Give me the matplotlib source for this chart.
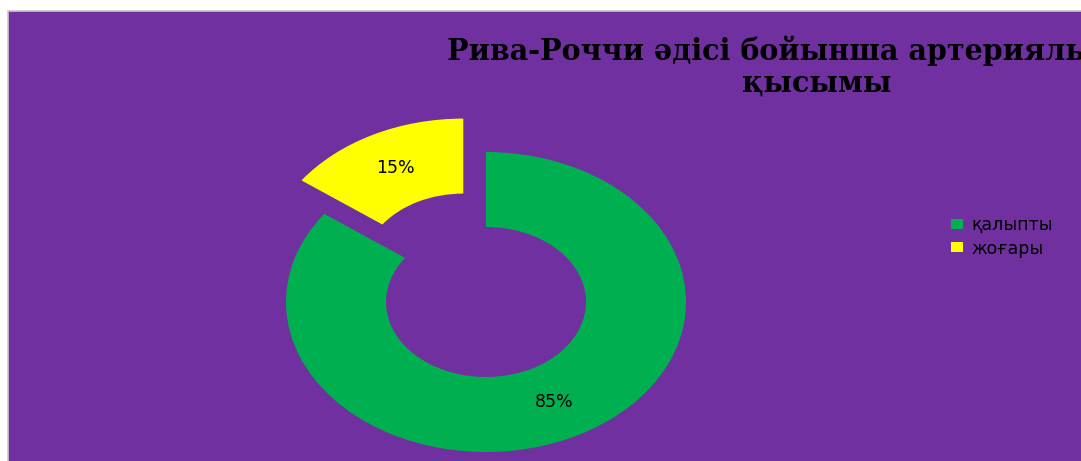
import matplotlib.pyplot as plt
from matplotlib.patches import Rectangle

# data
labels = ['қалыпты', 'жоғары']
shares = [85, 15]
colors = ['#00B050', '#FFFF00']
explode = [0, 0.25]

title_line1 = 'Рива-Роччи әдісі бойынша артериялық қан'
title_line2 = 'қысымы'

W, H = 1081, 461
fig = plt.figure(figsize=(W / 100, H / 100), dpi=100)
fig.patch.set_facecolor('white')

# purple chart area with a light grey edge at left and top
bg = Rectangle((8 / W, -0.05), 1.1, (H - 11) / H + 0.05, transform=fig.transFigure,
               facecolor='#7030A0', edgecolor='#C8C8C8', linewidth=1.2, zorder=-5)
fig.patches.append(bg)

# axes sized so the ring comes out stretched like the original
ax = fig.add_axes([186 / W, -66 / H, 600 / W, 450 / H])
ax.set_zorder(2)
wedges, texts, autotexts = ax.pie(shares, colors=colors, explode=explode,
                                  startangle=90, counterclock=False,
                                  autopct='%d%%', pctdistance=0.75,
                                  wedgeprops=dict(width=0.5, linewidth=0),
                                  textprops=dict(fontsize=12.5, color='black',
                                                 family='DejaVu Sans'))
ax.set_aspect('auto')
ax.set_xlim(-1.5, 1.5)
ax.set_ylim(-1.5, 1.5)
ax.axis('off')
ax.patch.set_alpha(0)
for w in wedges:
    w.set_clip_on(False)

# the title runs past the right edge in the original too
fig.text(817 / W, 1 - 60 / H, title_line1, ha='center', va='baseline',
         fontsize=20.6, fontweight='bold', family='DejaVu Serif', color='black')
fig.text(817 / W, 1 - 92 / H, title_line2, ha='center', va='baseline',
         fontsize=20.6, fontweight='bold', family='DejaVu Serif', color='black')

fig.legend(wedges, labels, loc='center left', bbox_to_anchor=(951 / W, 1 - 237 / H),
           frameon=False, fontsize=12.5, handlelength=0.7, handleheight=0.5,
           handletextpad=0.45, labelspacing=0.3, borderaxespad=0, borderpad=0)

fig.savefig('out.png', dpi=100, facecolor=fig.get_facecolor())
